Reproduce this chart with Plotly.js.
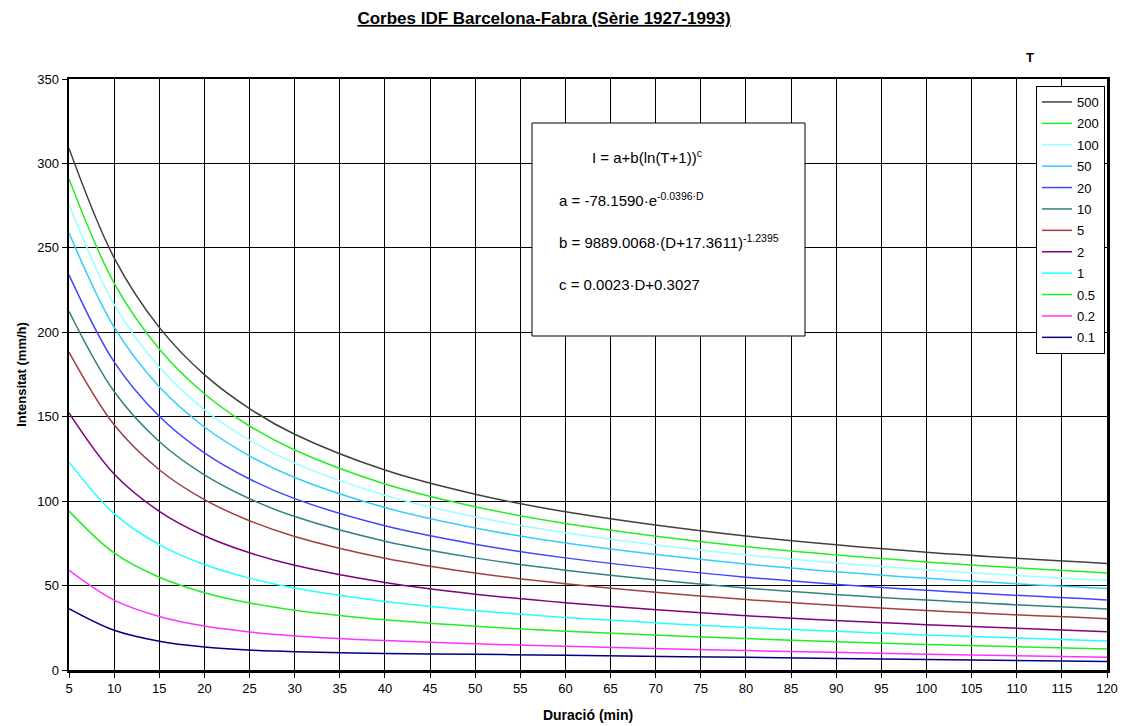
<!DOCTYPE html>
<html>
<head>
<meta charset="utf-8">
<script src="https://cdn.plot.ly/plotly-3.0.1.min.js"></script>
<style>html,body{margin:0;padding:0;background:#fff;}#chart{width:1125px;height:726px;}</style>
</head>
<body>
<div id="chart"></div>
<script>
// Duration (min)
const durations = [5, 10, 15, 20, 25, 30, 40, 50, 60, 80, 100, 120];
// Return periods T (years)
const periods = ['500', '200', '100', '50', '20', '10', '5', '2', '1', '0.5', '0.2', '0.1'];
// Intensity (mm/h) per return period
const i500 = [308.9, 244.1, 202.9, 174.9, 154.8, 139.6, 118.4, 104.1, 93.7, 79.3, 69.7, 63.1];
const i200 = [290.8, 229.1, 190.1, 163.6, 144.5, 130.3, 110.2, 96.7, 86.8, 73.1, 64.0, 57.5];
const i100 = [275.6, 216.6, 179.4, 154.2, 136.1, 122.5, 103.5, 90.7, 81.3, 68.1, 59.3, 53.0];
const i50  = [258.9, 203.0, 167.7, 143.9, 126.8, 114.0, 96.2, 84.1, 75.2, 62.8, 54.3, 48.2];
const i20  = [234.0, 182.5, 150.3, 128.6, 113.1, 101.5, 85.4, 74.5, 66.4, 55.0, 47.2, 41.5];
const i10  = [212.4, 164.9, 135.3, 115.5, 101.4, 90.9, 76.3, 66.4, 59.1, 48.6, 41.4, 36.1];
const i5   = [188.2, 145.2, 118.6, 100.9, 88.4, 79.1, 66.2, 57.5, 51.1, 41.8, 35.2, 30.4];
const i2   = [152.3, 116.1, 94.0, 79.5, 69.4, 62.0, 51.8, 44.9, 39.8, 32.2, 26.8, 22.7];
const i1   = [123.1, 92.6, 74.3, 62.5, 54.4, 48.5, 40.5, 35.2, 31.1, 25.1, 20.7, 17.2];
const i05  = [94.1, 69.3, 54.9, 45.8, 39.7, 35.4, 29.7, 25.9, 23.0, 18.6, 15.1, 12.5];
const i02  = [59.0, 41.4, 31.7, 26.0, 22.5, 20.2, 17.4, 15.5, 14.0, 11.5, 9.4, 7.6];
const i01  = [36.3, 23.5, 17.0, 13.6, 11.8, 10.8, 9.8, 9.3, 8.7, 7.5, 6.2, 5.0];
const xTicks = [5,10,15,20,25,30,35,40,45,50,55,60,65,70,75,80,85,90,95,100,105,110,115,120];
const yTicks = [0,50,100,150,200,250,300,350];

const series = [i500, i200, i100, i50, i20, i10, i5, i2, i1, i05, i02, i01];
const colors = ['#404040', '#22ee22', '#99ffff', '#33ccff', '#4444ff', '#338080',
                '#a04040', '#800080', '#22ffff', '#22ee22', '#ff33ff', '#000080'];

const traces = series.map((ys, k) => ({
  x: durations, y: ys, type: 'scatter', mode: 'lines', name: periods[k],
  legendgroup: 'g' + k,
  line: {color: colors[k], width: 1.5, shape: 'spline', smoothing: 1}
}));

const px2x = p => (p - 69) / 1038;
const px2y = p => (670 - p) / 591;
const fnt = {family: 'Liberation Sans, Arial, sans-serif', size: 15, color: '#000'};

const layout = {
  width: 1125, height: 726,
  margin: {l: 69, r: 18, t: 79, b: 56},
  paper_bgcolor: '#fff', plot_bgcolor: '#fff',
  font: {family: 'Liberation Sans, Arial, sans-serif', size: 13, color: '#000'},
  title: {text: '<b><u>Corbes IDF Barcelona-Fabra (Sèrie 1927-1993)</u></b>',
          x: 544 / 1125, xref: 'container', xanchor: 'center',
          y: 1 - 18 / 726, yref: 'container', yanchor: 'middle',
          font: {family: 'Liberation Sans, Arial, sans-serif', size: 17, color: '#000'}},
  xaxis: {range: [5, 120], tickvals: xTicks, ticktext: xTicks.map(String),
          showgrid: true, gridcolor: '#000', gridwidth: 1,
          showline: true, linecolor: '#000', linewidth: 2.5, mirror: true,
          ticks: 'outside', ticklen: 5, tickcolor: '#000', zeroline: false,
          tickfont: {size: 13},
          title: {text: '<b>Duració (min)</b>', standoff: 15, font: {size: 14}}},
  yaxis: {range: [0, 350], tickvals: yTicks, ticktext: yTicks.map(String),
          showgrid: true, gridcolor: '#000', gridwidth: 1,
          showline: true, linecolor: '#000', linewidth: 2.5, mirror: true,
          ticks: 'outside', ticklen: 5, tickcolor: '#000', zeroline: false,
          tickfont: {size: 13},
          title: {text: '<b>Intensitat (mm/h)</b>', standoff: 8, font: {size: 13}}},
  legend: {x: px2x(1036), y: px2y(86), xanchor: 'left', yanchor: 'top',
           bgcolor: '#fff', bordercolor: '#000', borderwidth: 1,
           font: {size: 13}, itemwidth: 30, traceorder: 'grouped', tracegroupgap: 1.5},
  shapes: [{type: 'rect', xref: 'paper', yref: 'paper',
            x0: px2x(532), x1: px2x(805), y0: px2y(336), y1: px2y(123),
            fillcolor: '#fff', line: {color: '#000', width: 1}, layer: 'above'}],
  annotations: [
    {text: 'I = a+b(ln(T+1))<sup>c</sup>', x: px2x(590), y: px2y(157), xref: 'paper', yref: 'paper',
     xanchor: 'left', yanchor: 'middle', showarrow: false, font: fnt},
    {text: 'a = -78.1590·e<sup>-0.0396·D</sup>', x: px2x(557), y: px2y(199), xref: 'paper', yref: 'paper',
     xanchor: 'left', yanchor: 'middle', showarrow: false, font: fnt},
    {text: 'b = 9889.0068·(D+17.3611)<sup>-1.2395</sup>', x: px2x(557), y: px2y(241), xref: 'paper', yref: 'paper',
     xanchor: 'left', yanchor: 'middle', showarrow: false, font: fnt},
    {text: 'c = 0.0023·D+0.3027', x: px2x(557), y: px2y(284), xref: 'paper', yref: 'paper',
     xanchor: 'left', yanchor: 'middle', showarrow: false, font: fnt},
    {text: '<b>T</b>', x: px2x(1030), y: px2y(57), xref: 'paper', yref: 'paper',
     xanchor: 'center', yanchor: 'middle', showarrow: false, font: {size: 13, color: '#000'}}
  ]
};

Plotly.newPlot('chart', traces, layout, {displayModeBar: false, staticPlot: true});
</script>
</body>
</html>
